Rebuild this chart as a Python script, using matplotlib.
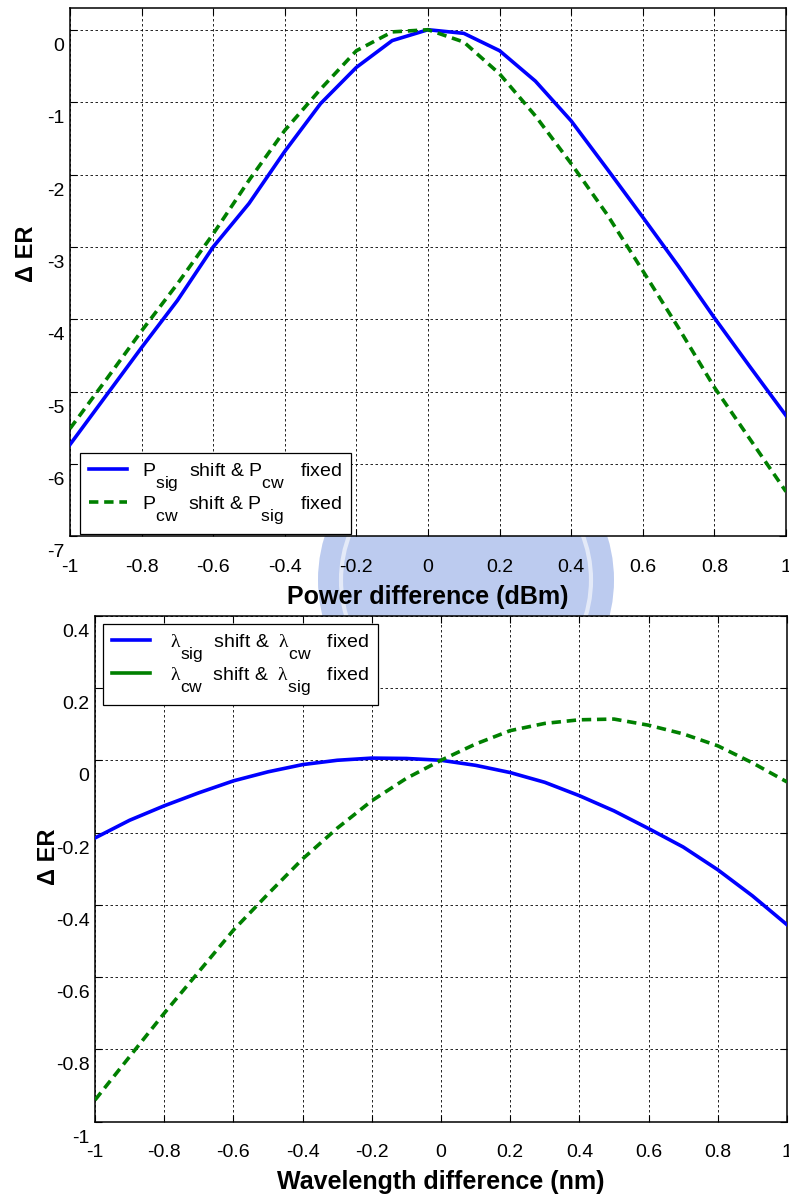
import matplotlib
matplotlib.use('Agg')
import matplotlib.pyplot as plt
import matplotlib.transforms as mtransforms
import matplotlib._mathtext as mtext
from matplotlib.lines import Line2D
from matplotlib.patches import Ellipse

plt.rcParams['font.family'] = ['Liberation Sans', 'DejaVu Sans']
plt.rcParams['mathtext.fontset'] = 'custom'
plt.rcParams['mathtext.rm'] = 'Liberation Serif'
plt.rcParams['mathtext.sf'] = 'Liberation Sans'
# larger, lower subscripts like the original legend text
mtext.SHRINK_FACTOR = 0.9
mtext.FontConstantsBase.sub1 = 1.1
mtext.FontConstantsBase.subdrop = 1.1

# power difference (dBm) vs delta ER
power_diff = [-1.0, -0.9, -0.8, -0.7, -0.6, -0.5, -0.4, -0.3, -0.2, -0.1, 0.0,
              0.1, 0.2, 0.3, 0.4, 0.5, 0.6, 0.7, 0.8, 0.9, 1.0]
er_psig_shift = [-5.73, -5.06, -4.39, -3.74, -3.00, -2.40, -1.68, -1.02, -0.52, -0.15, 0.00,
                 -0.05, -0.29, -0.71, -1.26, -1.92, -2.59, -3.27, -3.98, -4.66, -5.33]
er_pcw_shift = [-5.51, -4.84, -4.16, -3.51, -2.82, -2.08, -1.39, -0.82, -0.29, -0.03, 0.00,
                -0.17, -0.61, -1.19, -1.85, -2.55, -3.33, -4.12, -4.94, -5.66, -6.38]

# wavelength difference (nm) vs delta ER
wl_diff = [-1.0, -0.9, -0.8, -0.7, -0.6, -0.5, -0.4, -0.3, -0.2, -0.1, 0.0,
           0.1, 0.2, 0.3, 0.4, 0.5, 0.6, 0.7, 0.8, 0.9, 1.0]
er_lsig_shift = [-0.215, -0.166, -0.126, -0.090, -0.057, -0.032, -0.012, 0.000, 0.006, 0.005, 0.000,
                 -0.014, -0.034, -0.061, -0.098, -0.140, -0.189, -0.240, -0.303, -0.375, -0.455]
er_lcw_shift = [-0.940, -0.820, -0.700, -0.585, -0.470, -0.370, -0.273, -0.188, -0.112, -0.050, 0.000,
                0.045, 0.082, 0.102, 0.112, 0.114, 0.097, 0.073, 0.040, -0.007, -0.060]

x_ticks = [-1, -0.8, -0.6, -0.4, -0.2, 0, 0.2, 0.4, 0.6, 0.8, 1]
x_labels = ['-1', '-0.8', '-0.6', '-0.4', '-0.2', '0', '0.2', '0.4', '0.6', '0.8', '1']
y1_ticks = [-7, -6, -5, -4, -3, -2, -1, 0]
y1_labels = ['-7', '-6', '-5', '-4', '-3', '-2', '-1', '0']
y2_ticks = [-1, -0.8, -0.6, -0.4, -0.2, 0, 0.2, 0.4]
y2_labels = ['-1', '-0.8', '-0.6', '-0.4', '-0.2', '0', '0.2', '0.4']

W, H = 789, 1194
fig = plt.figure(figsize=(W / 100, H / 100), dpi=100)

# faint watermark emblem behind the axes
fig.add_artist(Ellipse((466 / W, 1 - 580 / H), 296 / W, 296 / H, transform=fig.transFigure,
                       facecolor='#bccbef', edgecolor='none', zorder=-2))
fig.add_artist(Ellipse((466 / W, 1 - 580 / H), 250 / W, 250 / H, transform=fig.transFigure,
                       facecolor='none', edgecolor='#e4eaf8', lw=3, zorder=-1))

ax1 = fig.add_axes([70 / W, 1 - 536.5 / H, 716 / W, 528.5 / H])
ax2 = fig.add_axes([95 / W, 1 - 1121.7 / H, 692 / W, 506 / H])

blue = '#0000ff'
green = '#008000'
lw = 2.6
dash = (0, (2.6, 1.6))

ax1.plot(power_diff, er_psig_shift, color=blue, lw=lw, zorder=3)
ax1.plot(power_diff, er_pcw_shift, color=green, lw=lw, ls=dash, zorder=3)
ax2.plot(wl_diff, er_lsig_shift, color=blue, lw=lw, zorder=3)
ax2.plot(wl_diff, er_lcw_shift, color=green, lw=lw, ls=dash, zorder=3)

ax1.set_xlim(-1, 1)
ax1.set_ylim(-7, 0.3)
ax2.set_xlim(-1, 1)
ax2.set_ylim(-1, 0.4)

ax1.set_xticks(x_ticks, labels=x_labels)
ax1.set_yticks(y1_ticks, labels=y1_labels)
ax2.set_xticks(x_ticks, labels=x_labels)
ax2.set_yticks(y2_ticks, labels=y2_labels)

shift = mtransforms.ScaledTranslation(0, -0.145, fig.dpi_scale_trans)
for ax in (ax1, ax2):
    ax.grid(True, color='k', ls=(0, (3, 3)), lw=0.6)
    ax.tick_params(direction='in', top=True, right=True, length=5, width=0.8,
                   labelsize=14)
    ax.tick_params(axis='x', pad=16)
    ax.tick_params(axis='y', pad=4)
    for sp in ax.spines.values():
        sp.set_linewidth(1.1)
    for lab in ax.get_yticklabels():
        lab.set_transform(lab.get_transform() + shift)

ax1.set_xlabel('Power difference (dBm)', fontsize=18, fontweight='bold')
ax1.set_ylabel('Δ ER', fontsize=17, fontweight='bold')
ax1.xaxis.set_label_coords(0.5, -0.0918)
ax1.yaxis.set_label_coords(-0.0447, 0.5345)

ax2.set_xlabel('Wavelength difference (nm)', fontsize=18, fontweight='bold')
ax2.set_ylabel('Δ ER', fontsize=17, fontweight='bold')
ax2.xaxis.set_label_coords(0.5, -0.0955)
ax2.yaxis.set_label_coords(-0.0506, 0.5237)

leg_kw = dict(loc='upper left', fontsize=14, borderaxespad=0, fancybox=False,
              framealpha=1, edgecolor='k', borderpad=0.45, handlelength=1.95,
              handletextpad=0.8, labelspacing=0.05)

h1 = [Line2D([], [], color=blue, lw=lw),
      Line2D([], [], color=green, lw=lw, ls=dash)]
leg1 = ax1.legend(h1, [r'P$_{\mathsf{sig}}$  shift & P$_{\mathsf{cw}}$   fixed',
                       r'P$_{\mathsf{cw}}$  shift & P$_{\mathsf{sig}}$   fixed'],
                  bbox_to_anchor=(80 / W, 1 - 453 / H), bbox_transform=fig.transFigure,
                  **leg_kw)
leg1.get_frame().set_linewidth(0.9)

# the second legend handle shows as a solid line in the original
h2 = [Line2D([], [], color=blue, lw=lw),
      Line2D([], [], color=green, lw=lw)]
leg2 = ax2.legend(h2, [r' $\mathrm{\lambda}_{\mathsf{sig}}$  shift &  $\mathrm{\lambda}_{\mathsf{cw}}$   fixed',
                       r' $\mathrm{\lambda}_{\mathsf{cw}}$  shift &  $\mathrm{\lambda}_{\mathsf{sig}}$   fixed'],
                  bbox_to_anchor=(103 / W, 1 - 624 / H), bbox_transform=fig.transFigure,
                  **leg_kw)
leg2.get_frame().set_linewidth(0.9)

plt.savefig('out.png', dpi=100)
